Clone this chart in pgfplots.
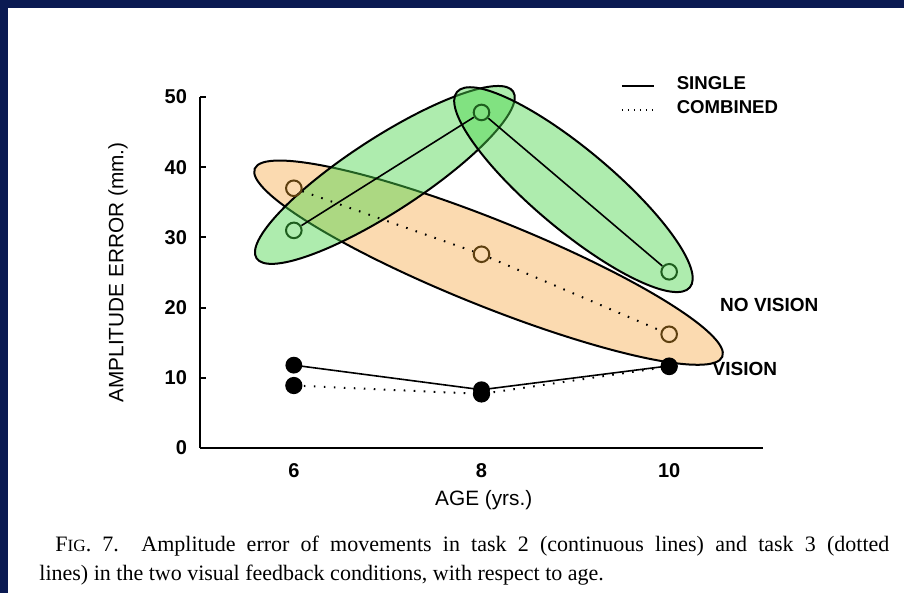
\documentclass[border=0pt]{standalone}
\usepackage{pgfplots}
\pgfplotsset{compat=1.18}
\usepackage{fontspec}
\setmainfont{Liberation Sans}
\newfontfamily\capfont{Liberation Serif}
\definecolor{navy}{HTML}{0A1A52}
\definecolor{gfill}{HTML}{4CD64C}
\definecolor{ofill}{HTML}{F5A030}
\definecolor{gmark}{HTML}{1E5E1E}
\definecolor{omark}{HTML}{5E4010}
\begin{document}
\begin{tikzpicture}
\useasboundingbox (0pt,0pt) rectangle (452pt,296.5pt);
\fill[white] (0pt,0pt) rectangle (452pt,296.5pt);
\fill[navy] (0pt,292.5pt) rectangle (452pt,296.5pt);
\fill[navy] (0pt,0pt) rectangle (4pt,296.5pt);
\begin{axis}[
  at={(100pt,72.5pt)}, anchor=south west,
  scale only axis, width=281.5pt, height=175.5pt,
  xmin=5, xmax=11, ymin=0, ymax=50,
  axis x line*=bottom, axis y line*=left,
  axis line style={line width=1pt, -},
  xtick={6,8,10}, ytick={0,10,20,30,40,50},
  x tick style={draw=none},
  y tick style={line width=1pt, black},
  tick align=inside, major tick length=3pt,
  ticklabel style={font=\bfseries\fontsize{10}{12}\selectfont},
  yticklabel style={xshift=-3pt},
  xticklabel style={yshift=-4pt},
  /pgf/number format/assume math mode=true,
  xlabel={AGE (yrs.)}, ylabel={AMPLITUDE ERROR (mm.)},
  xlabel style={at={(axis description cs:0.504,-0.148)}, anchor=center, font=\fontsize{10.4}{12}\selectfont},
  ylabel style={at={(axis description cs:-0.1456,0.5)}, anchor=center, font=\fontsize{10.4}{12}\selectfont},
  clip=false,
  legend style={draw=none, fill=none, at={(axis cs:9.48,53.1)}, anchor=north west,
    font=\bfseries\fontsize{9.3}{11}\selectfont, row sep=5.3pt, inner sep=0pt,
    nodes={inner sep=0pt, text height=6.7pt, text depth=0pt},
    /tikz/every odd column/.append style={column sep=11pt}},
  legend cell align=left,
  legend image code/.code={\draw[#1] (0pt,-2pt) -- (16pt,-2pt);},
]
% shaded ellipses
\draw[line width=1pt, fill=ofill, fill opacity=0.38, rotate around={-21.9:(axis cs:8.075,26.4)}]
  (axis cs:8.075,26.4) ellipse [x radius=126pt, y radius=21.5pt];
\draw[line width=1pt, fill=gfill, fill opacity=0.45, rotate around={33:(axis cs:6.97,38.9)}]
  (axis cs:6.97,38.9) ellipse [x radius=76.5pt, y radius=18.5pt];
\draw[line width=1pt, fill=gfill, fill opacity=0.45, rotate around={-40:(axis cs:8.98,36.8)}]
  (axis cs:8.98,36.8) ellipse [x radius=76pt, y radius=20pt];
% no vision, single (solid)
\addplot[forget plot, black, line width=0.8pt, shorten <=4.5pt, shorten >=4.5pt] coordinates {(6,31) (8,47.8)};
\addplot[forget plot, black, line width=0.8pt, shorten <=4.5pt, shorten >=4.5pt] coordinates {(8,47.8) (10,25.1)};
% no vision, combined (dotted)
\addplot[forget plot, black, line width=1pt, dash pattern=on 0.8pt off 4.2pt, shorten <=4.5pt, shorten >=4.5pt] coordinates {(6,37) (8,27.6)};
\addplot[forget plot, black, line width=1pt, dash pattern=on 0.8pt off 4.2pt, shorten <=4.5pt, shorten >=4.5pt] coordinates {(8,27.6) (10,16.2)};
\addplot[forget plot, only marks, mark=o, mark size=3.9pt, mark options={line width=1pt, draw=gmark}] coordinates {(6,31) (8,47.8) (10,25.1)};
\addplot[forget plot, only marks, mark=o, mark size=3.9pt, mark options={line width=1pt, draw=omark}] coordinates {(6,37) (8,27.6) (10,16.2)};
% vision
\addplot[forget plot, black, line width=0.8pt, mark=*, mark size=3.8pt] coordinates {(6,11.8) (8,8.3) (10,11.7)};
\addplot[forget plot, black, line width=1pt, dash pattern=on 0.8pt off 4.2pt, mark=*, mark size=3.8pt, mark options={solid}] coordinates {(6,8.9) (8,7.7) (10,11.6)};
% legend
\addlegendimage{black, line width=0.9pt}
\addlegendentry{SINGLE}
\addlegendimage{black, line width=1pt, dash pattern=on 0.8pt off 2.2pt}
\addlegendentry{COMBINED}
\node[anchor=west, inner sep=0pt, font=\bfseries\fontsize{9.5}{11}\selectfont] at (axis cs:10.54,20.4) {NO VISION};
\node[anchor=west, inner sep=0pt, font=\bfseries\fontsize{9.5}{11}\selectfont] at (axis cs:10.46,11.3) {VISION};
\end{axis}
\node[anchor=base west, inner sep=0pt, font=\capfont\fontsize{11}{13}\selectfont] at (27.5pt,20.5pt)
  {\hbox to 417pt{F{\fontsize{8.6}{10}\selectfont IG}. 7.\ \ Amplitude error of movements in task 2 (continuous lines) and task 3 (dotted}};
\node[anchor=base west, inner sep=0pt, font=\capfont\fontsize{11}{13}\selectfont] at (19.5pt,6pt)
  {lines) in the two visual feedback conditions, with respect to age.};
\end{tikzpicture}
\end{document}
